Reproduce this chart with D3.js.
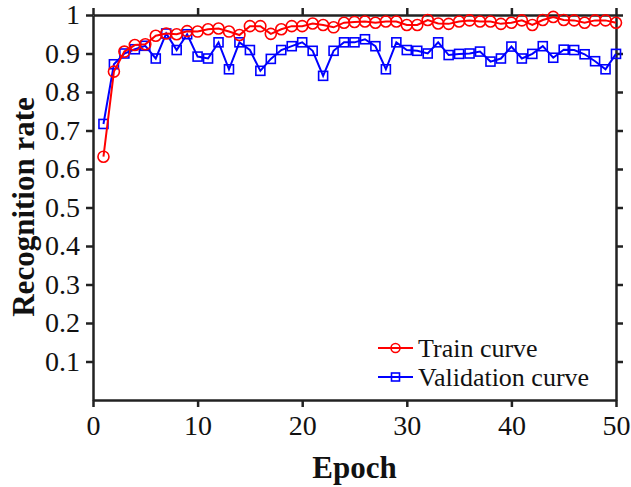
<!DOCTYPE html>
<html>
<head>
<meta charset="utf-8">
<script src="https://cdn.jsdelivr.net/npm/d3@7"></script>
<style>
  body { margin: 0; background: #fff; }
  svg text { font-family: "Liberation Serif", "Times New Roman", serif; }
</style>
</head>
<body>
<div id="chart"></div>
<script>
// values
var epochs = d3.range(1, 51)
var trainRate = [0.632, 0.853, 0.905, 0.922, 0.924, 0.946, 0.952, 0.950, 0.958, 0.957,
                 0.963, 0.965, 0.957, 0.948, 0.971, 0.971, 0.951, 0.963, 0.971, 0.971,
                 0.978, 0.974, 0.968, 0.980, 0.982, 0.983, 0.980, 0.983, 0.983, 0.974,
                 0.974, 0.987, 0.978, 0.977, 0.983, 0.986, 0.983, 0.983, 0.977, 0.980,
                 0.986, 0.974, 0.987, 0.995, 0.987, 0.986, 0.980, 0.986, 0.986, 0.980]
var validRate = [0.717, 0.872, 0.900, 0.911, 0.920, 0.887, 0.952, 0.909, 0.950, 0.892,
                 0.887, 0.929, 0.859, 0.929, 0.909, 0.855, 0.886, 0.909, 0.919, 0.929,
                 0.907, 0.842, 0.907, 0.929, 0.929, 0.937, 0.919, 0.859, 0.929, 0.909,
                 0.907, 0.900, 0.929, 0.896, 0.899, 0.900, 0.905, 0.879, 0.887, 0.918,
                 0.887, 0.899, 0.919, 0.889, 0.910, 0.909, 0.898, 0.880, 0.859, 0.899]
var xTicks = [0, 10, 20, 30, 40, 50]
var yTicks = [0.1, 0.2, 0.3, 0.4, 0.5, 0.6, 0.7, 0.8, 0.9, 1]
var seriesNames = ["Train curve", "Validation curve"]

var width = 631, height = 487
// plot box (named so they don't clash with window.top)
var boxL = 93, boxR = 616, boxT = 15, boxB = 400

var svg = d3.select("#chart").append("svg").attr("width", width).attr("height", height)

var x = d3.scaleLinear().domain([0, 50]).range([boxL, boxR])
var y = d3.scaleLinear().domain([0, 1]).range([boxB, boxT])

// axes, MATLAB style box with outward ticks
function styleAxis(g){
	g.select(".domain").attr("stroke", "#222").attr("stroke-width", 2.5)
	g.selectAll(".tick line").attr("stroke", "#222").attr("stroke-width", 2.5)
	g.selectAll(".tick text").attr("font-size", "28px").attr("fill", "#111")
		.attr("font-family", "Liberation Serif")
}

svg.append("g").attr("transform", "translate(0," + boxB + ")")
	.call(d3.axisBottom(x).tickValues(xTicks).tickSize(7).tickSizeOuter(0).tickPadding(8))
	.call(styleAxis)
svg.append("g").attr("transform", "translate(0," + boxT + ")")
	.call(d3.axisTop(x).tickValues(xTicks).tickSize(7).tickSizeOuter(0).tickFormat(""))
	.call(styleAxis)
svg.append("g").attr("transform", "translate(" + boxL + ",0)")
	.call(d3.axisLeft(y).tickValues(yTicks).tickSize(7).tickSizeOuter(0).tickPadding(6)
		.tickFormat(function(d){ return d == 1 ? "1" : d3.format(".1f")(d) }))
	.call(styleAxis)
svg.append("g").attr("transform", "translate(" + boxR + ",0)")
	.call(d3.axisRight(y).tickValues(yTicks).tickSize(7).tickSizeOuter(0).tickFormat(""))
	.call(styleAxis)

// curves
var line = d3.line().x(function(d){ return x(d[0]) }).y(function(d){ return y(d[1]) })
var trainPts = epochs.map(function(e, i){ return [e, trainRate[i]] })
var validPts = epochs.map(function(e, i){ return [e, validRate[i]] })

svg.append("path").datum(validPts).attr("d", line)
	.attr("fill", "none").attr("stroke", "#0000ff").attr("stroke-width", 2)
svg.selectAll(".sq").data(validPts).enter().append("rect")
	.attr("class", "sq")
	.attr("x", function(d){ return x(d[0]) - 4.5 })
	.attr("y", function(d){ return y(d[1]) - 4.5 })
	.attr("width", 9).attr("height", 9)
	.attr("fill", "none").attr("stroke", "#0000ff").attr("stroke-width", 1.6)

svg.append("path").datum(trainPts).attr("d", line)
	.attr("fill", "none").attr("stroke", "#ff0000").attr("stroke-width", 2)
svg.selectAll(".circ").data(trainPts).enter().append("circle")
	.attr("class", "circ")
	.attr("cx", function(d){ return x(d[0]) })
	.attr("cy", function(d){ return y(d[1]) })
	.attr("r", 5.5)
	.attr("fill", "none").attr("stroke", "#ff0000").attr("stroke-width", 1.6)

// legend
var legend = svg.append("g")
var legY = [348, 377]
var legColor = ["#ff0000", "#0000ff"]
legend.selectAll("line").data(seriesNames).enter().append("line")
	.attr("x1", 378).attr("x2", 413)
	.attr("y1", function(d, i){ return legY[i] }).attr("y2", function(d, i){ return legY[i] })
	.attr("stroke", function(d, i){ return legColor[i] }).attr("stroke-width", 2)
legend.append("circle").attr("cx", 395.5).attr("cy", legY[0]).attr("r", 4.5)
	.attr("fill", "none").attr("stroke", legColor[0]).attr("stroke-width", 1.6)
legend.append("rect").attr("x", 391.5).attr("y", legY[1] - 4).attr("width", 8).attr("height", 8)
	.attr("fill", "none").attr("stroke", legColor[1]).attr("stroke-width", 1.6)
legend.selectAll("text").data(seriesNames).enter().append("text")
	.attr("x", 418).attr("y", function(d, i){ return legY[i] + 8.5 })
	.attr("font-size", "26px").attr("fill", "#111")
	.text(function(d){ return d })

// axis titles
svg.append("text").attr("x", (boxL + boxR) / 2).attr("y", 478)
	.attr("text-anchor", "middle").attr("font-size", "31px").attr("font-weight", "bold")
	.attr("fill", "#111").text("Epoch")
svg.append("text").attr("transform", "translate(34," + 207 + ") rotate(-90)")
	.attr("text-anchor", "middle").attr("font-size", "31px").attr("font-weight", "bold")
	.attr("fill", "#111").text("Recognition rate")
</script>
</body>
</html>
